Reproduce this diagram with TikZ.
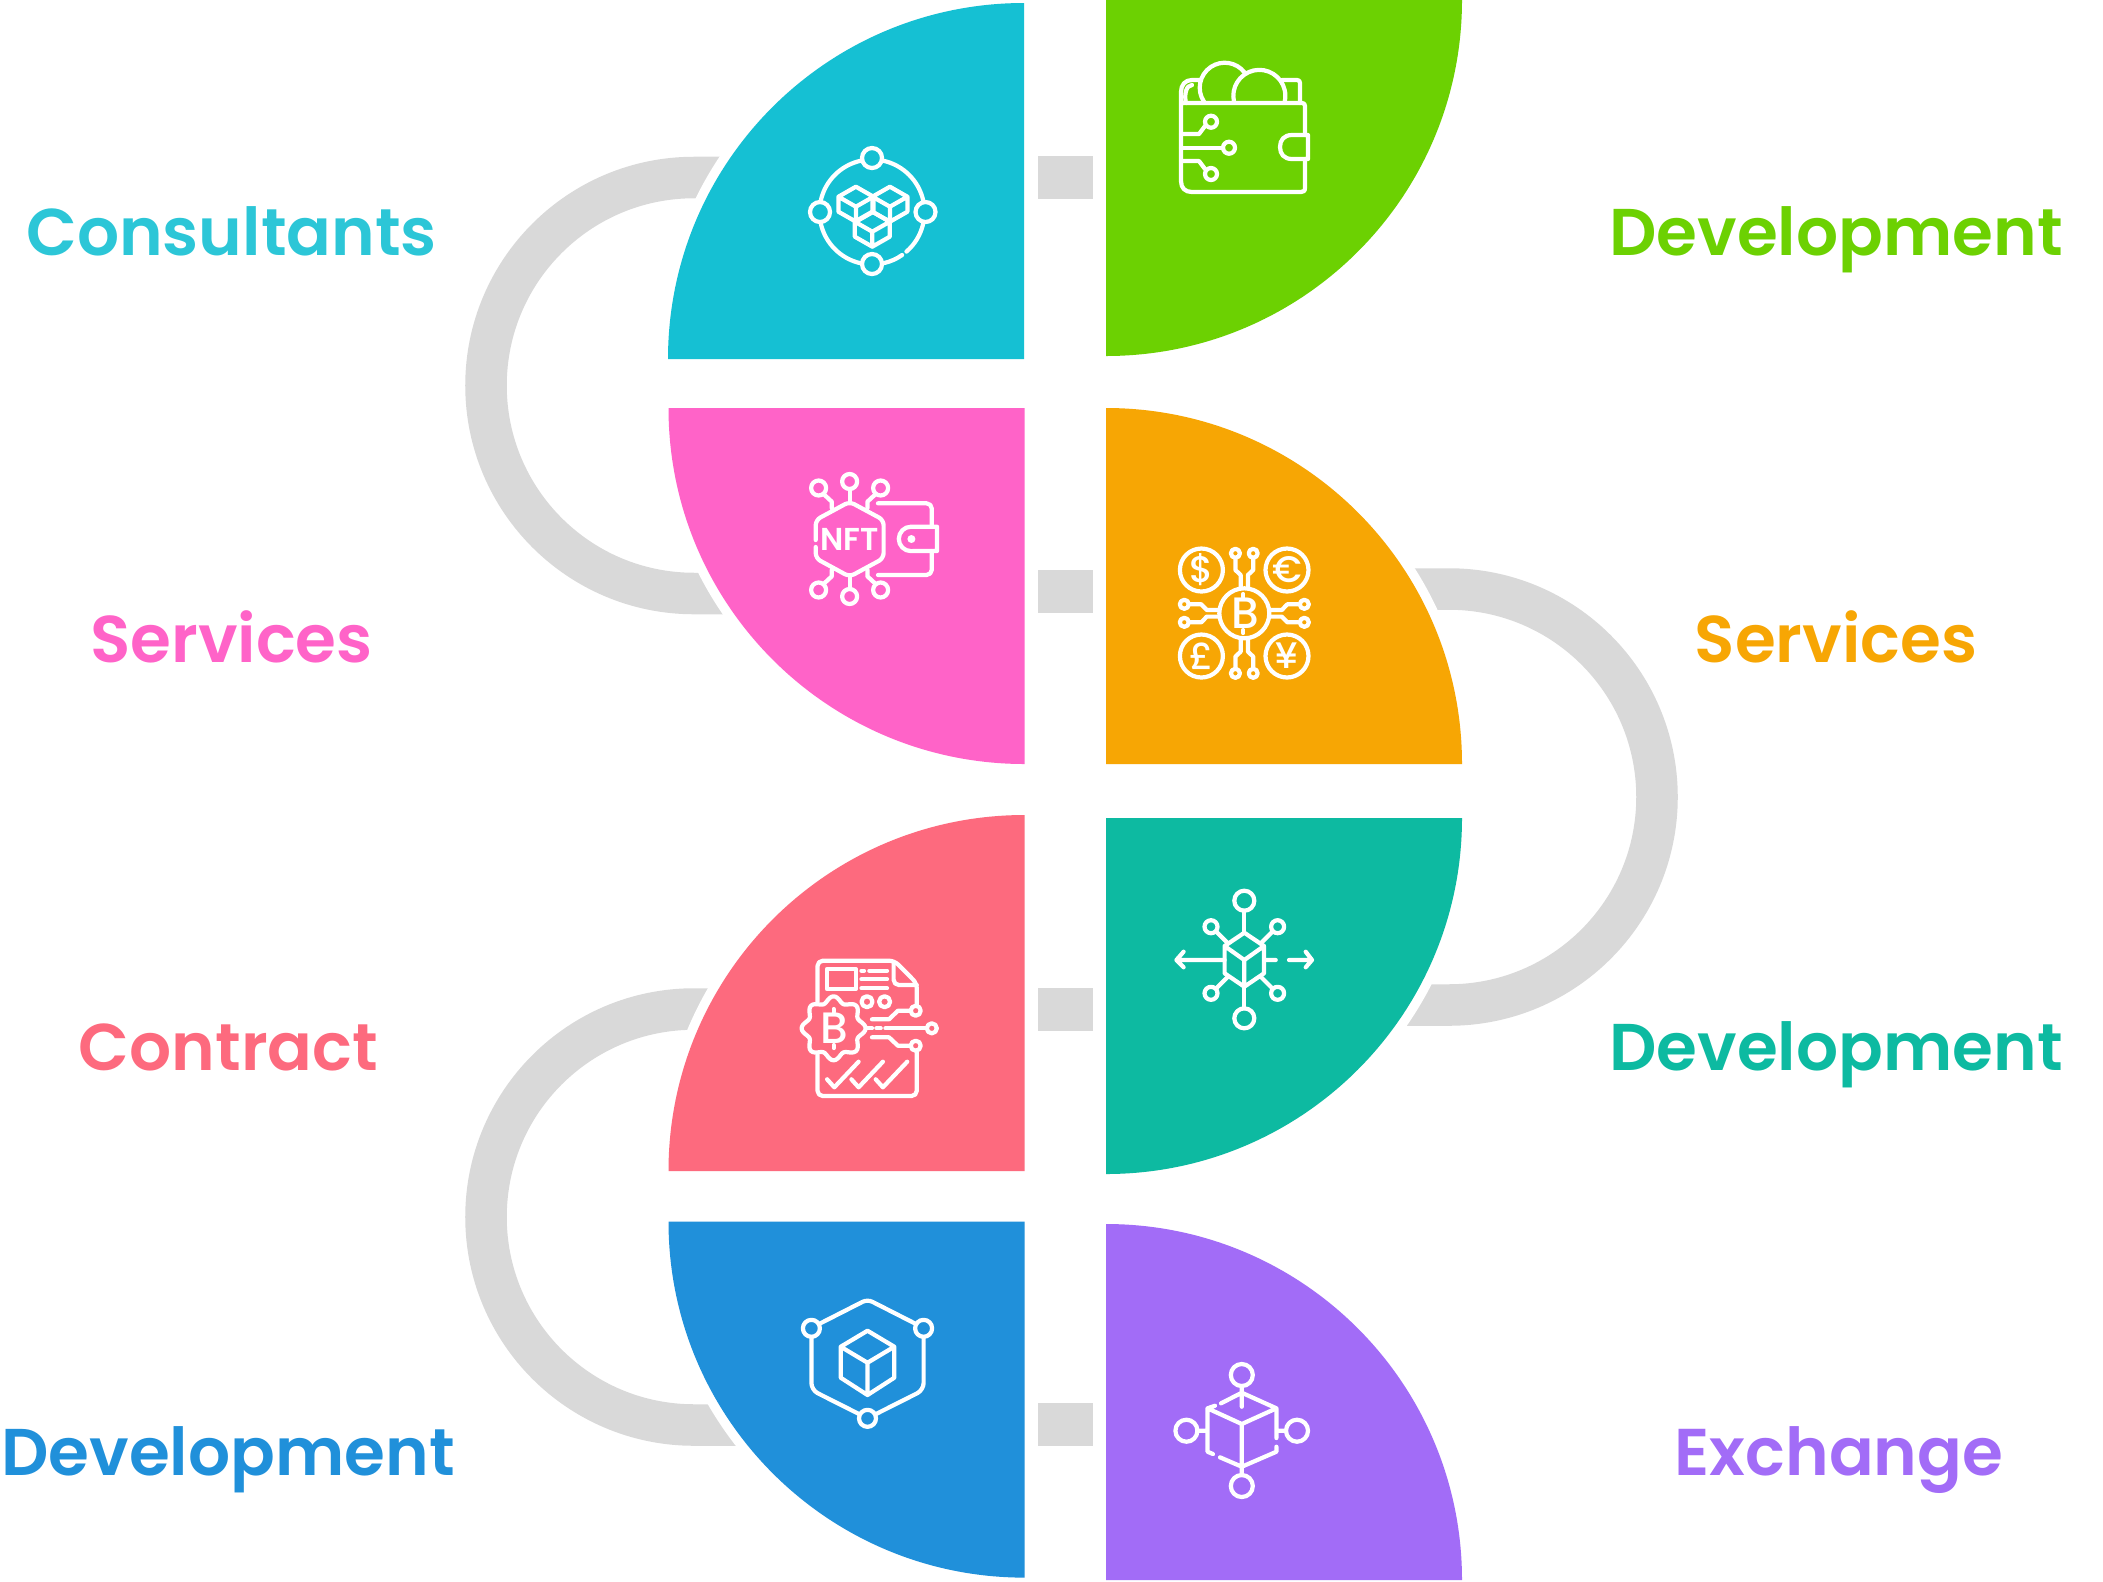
\documentclass[tikz,border=0pt]{standalone}
\usepackage{fontspec}
\newfontfamily\titlefont{Poppins SemiBold}
\newfontfamily\iconfont{Poppins Medium}
\definecolor{cyanq}{HTML}{15C0D3}
\definecolor{greenq}{HTML}{6CD102}
\definecolor{pinkq}{HTML}{FF63C8}
\definecolor{orangeq}{HTML}{F7A604}
\definecolor{redq}{HTML}{FD6A7E}
\definecolor{tealq}{HTML}{0DBAA1}
\definecolor{blueq}{HTML}{2090DA}
\definecolor{purpleq}{HTML}{A26CF7}
\definecolor{greyq}{HTML}{D9D9D9}
\tikzset{
  quarter/.style={fill=#1,preaction={draw=white,line width=0.19cm}},
  ringline/.style={draw=greyq,line width=0.415cm},
  linkbox/.style={fill=greyq},
  icon/.style={draw=white,line width=1.2pt,line cap=round,line join=round},
  sidelabel/.style={anchor=base,font=\titlefont\fontsize{18.8}{22}\selectfont,text=#1,inner sep=0pt},
  glyph/.style={text=white,inner sep=0pt,font=\iconfont\fontsize{#1}{#1}\selectfont}
}
\begin{document}
\begin{tikzpicture}[x=0.01cm,y=-0.01cm]
 \useasboundingbox (0,0) rectangle (2103,1581);

 % draw the grey rings behind the quarters
 \draw[ringline] (760,177.5) -- (694,177.5) arc[start angle=270,delta angle=-180,radius=208] -- (760,593.5);
 \draw[ringline] (1380,589) -- (1449,589) arc[start angle=270,delta angle=180,radius=208] -- (1380,1005);
 \draw[ringline] (760,1009) -- (694,1009) arc[start angle=270,delta angle=-180,radius=208] -- (760,1425);

 % draw the quarters: centre, start angle, colour
 \foreach \x/\y/\a/\c in {
     1024/359/180/cyanq,
     1106/0/0/greenq,
     1024.5/408/90/pinkq,
     1106/764/270/orangeq,
     1024.5/1171/180/redq,
     1106/818/0/tealq,
     1024.5/1221.6/90/blueq,
     1106/1580/270/purpleq}
         \path[quarter=\c] (\x,\y) -- ++(\a:356) arc[start angle=\a,delta angle=90,radius=356] -- cycle;

 % draw the small grey links
 \foreach \y in {156,570,988,1403}
         \path[linkbox] (1038,\y) rectangle ++(55,42.5);

 % draw the labels
 \node[sidelabel=cyanq!90!white] (consultants) at (231.6,255.7) {Consultants};
 \node[sidelabel=pinkq] (servicesleft) at (231.6,662.7) {Services};
 \node[sidelabel=redq] (contract) at (228.5,1070.7) {Contract};
 \node[sidelabel=blueq] (devblue) at (228,1475.7) {Development};
 \node[sidelabel=greenq] (devgreen) at (1836,255.7) {Development};
 \node[sidelabel=orangeq] (servicesright) at (1836,662.7) {Services};
 \node[sidelabel=tealq] (devteal) at (1836,1070.7) {Development};
 \node[sidelabel=purpleq] (exchange) at (1839,1475.7) {Exchange};

 % cyan icon: ring of nodes around three cubes
 \foreach \s/\e in {13/49,55/77,103/167,193/257,283/347}
         \draw[icon] (872,212) ++(\s:52.5) arc[start angle=\s,end angle=\e,radius=52.5];
 \foreach \x/\y in {872/158,820/212,925.5/212,872/264}
         \draw[icon] (\x,\y) circle(10);
 \foreach \x/\y in {855.9/186.7,889.9/186.7,872.3/211.7}
         \draw[icon] (\x,\y) -- ++(17.5,10) -- ++(0,15) -- ++(-17.5,10) -- ++(-17.5,-10) -- ++(0,-15) -- cycle
                     (\x-17.5,\y+10) -- (\x,\y+20) -- (\x+17.5,\y+10) (\x,\y+20) -- (\x,\y+35);

 % green icon: wallet with coins
 \draw[icon] (1181,103) -- (1302,103) .. controls (1304,103) and (1305,104) .. (1305,106) -- (1305,135)
             (1305,159) -- (1305,187) .. controls (1305,191) and (1304,192) .. (1301,192) -- (1192,192)
             .. controls (1185,192) and (1181,188) .. (1181,181) -- (1181,92)
             .. controls (1181,85) and (1185,80) .. (1192,80) -- (1200,80);
 \draw[icon] (1186,103) .. controls (1184,95) and (1186,85) .. (1192,85);
 \draw[icon] (1282,80) -- (1297,80) .. controls (1299,80) and (1300,81) .. (1300,83) -- (1300,103);
 \draw[icon] (1204,101.7) arc[start angle=146,end angle=322,radius=25];
 \draw[icon] (1234,101.7) arc[start angle=167,end angle=373,radius=26];
 \draw[icon] (1308,135) -- (1292,135) .. controls (1284,135) and (1280,140) .. (1280,147)
             .. controls (1280,154) and (1284,159) .. (1292,159) -- (1308,159) -- cycle;
 \draw[icon] (1181,134) -- (1199,134) -- (1205,126);
 \draw[icon] (1181,147.7) -- (1223,147.7);
 \draw[icon] (1181,161) -- (1199,161) -- (1205,169);
 \foreach \x/\y in {1211/121.7,1229/147.7,1211/174}
         \draw[icon] (\x,\y) circle(6);

 % pink icon: NFT hexagon and wallet
 \draw[icon,rounded corners=1.5pt] (815.7,540) -- (815.7,520) -- (849.6,501.7) -- (883.6,520)
             -- (883.6,558.3) -- (849.6,576.7) -- (815.7,558.3) -- (815.7,547);
 \node[text=white,inner sep=0pt,font=\titlefont\fontsize{9}{9}\selectfont] (nftword) at (849.6,539) {NFT};
 \foreach \s in {1,-1} {
         \draw[icon] (849.6,{539-\s*37.3}) -- (849.6,{539-\s*50});
         \draw[icon] (849.6,{539-\s*57.5}) circle(7.5);
         \foreach \t in {1,-1} {
                 \draw[icon] ({849.6-\t*17.8},{539-\s*30.7}) -- ({849.6-\t*17.8},{539-\s*37.3}) -- ({849.6-\t*25},{539-\s*44});
                 \draw[icon] ({849.6-\t*31},{539-\s*51}) circle(7.5);
         }
 }
 \draw[icon,rounded corners=1.5pt] (878,503.3) -- (931.8,503.3) -- (931.8,526.7);
 \draw[icon,rounded corners=1.5pt] (931.8,551) -- (931.8,575) -- (878,575);
 \draw[icon] (937,526.7) -- (911,526.7) arc[start angle=270,delta angle=-180,radius=12.2] -- (937,551) -- cycle;
 \fill[white] (911.4,539) circle(4);

 % orange icon: coin with four currencies
 \draw[icon] (1244.3,613.3) circle(25);
 \foreach \x/\y in {1201.4/570,1287/570,1201.4/656,1287/656}
         \draw[icon] (\x,\y) circle(21.5);
 \node[glyph=10.5] (dollar) at (1201.4,570) {\$};
 \node[glyph=10.5] (euro) at (1287,570) {€};
 \node[glyph=10.5] (pound) at (1201.4,656) {£};
 \node[glyph=10.5] (yen) at (1287,656) {¥};
 \node[glyph=12.5] (coinb) at (1245.3,613.3) {B};
 \draw[icon] (1243.3,594) -- (1243.3,597) (1243.3,630) -- (1243.3,633);
 \foreach \s in {1,-1}
     \foreach \t in {1,-1} {
         \draw[icon] ({1244.3+\s*8.9},{613.3+\t*55}) -- ({1244.3+\s*8.9},{613.3+\t*43.3})
                     -- ({1244.3+\s*3.6},{613.3+\t*38.3}) -- ({1244.3+\s*3.6},{613.3+\t*26.6});
         \draw[icon] ({1244.3+\s*8.9},{613.3+\t*60}) circle(4.5);
         \draw[icon] ({1244.3+\s*54},{613.3+\t*9}) -- ({1244.3+\s*43},{613.3+\t*9})
                     -- ({1244.3+\s*37.5},{613.3+\t*3.3}) -- ({1244.3+\s*26.8},{613.3+\t*3.3});
         \draw[icon] ({1244.3+\s*60},{613.3+\t*9}) circle(4.5);
     }

 % red icon: paper, gear and checks
 \draw[icon,rounded corners=1.5pt] (817.5,1001.7) -- (817.5,960.7) -- (894.3,960.7) -- (916.8,983.3) -- (916.8,1005);
 \draw[icon,rounded corners=1.5pt] (893.6,963) -- (893.6,985) -- (916.8,985);
 \draw[icon,rounded corners=1.5pt] (817.5,1055) -- (817.5,1096) -- (916.8,1096) -- (916.8,1051.7);
 \draw[icon] (827,969) rectangle (855.7,989);
 \draw[icon] (861.4,970.7) -- (864,970.7) (869.3,970.7) -- (887,970.7)
             (861.4,979.3) -- (887,979.3) (861.4,988.3) -- (887,988.3);
 \foreach \x in {867,884.6}
         \draw[icon] (\x,1001.7) circle(5.5);
 \draw[icon] plot[domain=0:360,samples=97,smooth] ({833.6+(29+3*cos(8*\x))*cos(\x)},{1028.3+(29+3*cos(8*\x))*sin(\x)});
 \node[glyph=12.5] (gearb) at (834.6,1028.3) {B};
 \draw[icon] (833.6,1009) -- (833.6,1012) (833.6,1045) -- (833.6,1048);
 \draw[icon] (872,1019.3) -- (889,1019.3) -- (897.9,1010.7) -- (910.4,1010.7);
 \draw[icon] (872,1037.3) -- (889,1037.3) -- (897.9,1045.7) -- (910.4,1045.7);
 \draw[icon] (867.5,1028.3) -- (872,1028.3) (876.4,1028.3) -- (880.7,1028.3) (885.4,1028.3) -- (926.4,1028.3);
 \foreach \x/\y in {915.7/1010.7,931.8/1028.3,915.7/1045.7}
         \draw[icon] (\x,\y) circle(5);
 \foreach \x in {0,24.3,48.6}
         \draw[icon] (827.1+\x,1079.3) -- (834.3+\x,1087.3) -- (858.6+\x,1061.7);

 % teal icon: cube with arrows
 \draw[icon] (1244.3,932.7) -- (1264,946) -- (1264,973.3) -- (1244.3,986.7) -- (1224.6,973.3) -- (1224.6,946) -- cycle
             (1224.6,946) -- (1244.3,960) -- (1264,946) (1244.3,960) -- (1244.3,986.7);
 \draw[icon] (1244.3,932.7) -- (1244.3,910.7) (1244.3,986.7) -- (1244.3,1008.3);
 \draw[icon] (1244.3,900.7) circle(10) (1244.3,1018.3) circle(10);
 \foreach \s in {1,-1}
     \foreach \t in {1,-1} {
         \draw[icon] ({1244.3+\s*33.3},{960+\t*33.3}) circle(6.5);
         \draw[icon] ({1244.3+\s*28},{960+\t*28.3}) -- ({1244.3+\s*17},{960+\t*17.3});
     }
 \draw[icon] (1224.6,960) -- (1176.4,960) (1183.6,951.7) -- (1176.4,960) -- (1183.6,967.3);
 \draw[icon] (1265.7,960) -- (1275.7,960) (1289,960) -- (1312,960) (1305.7,951.7) -- (1312,960) -- (1305.7,967.3);

 % blue icon: hexagon around a cube
 \draw[icon,rounded corners=1.5pt] (819,1324) -- (867.5,1299.3) -- (916,1324);
 \draw[icon,rounded corners=2pt] (923.6,1337) -- (923.6,1390) -- (876,1414);
 \draw[icon,rounded corners=2pt] (811.4,1337) -- (811.4,1390) -- (859,1414);
 \foreach \x/\y in {811.4/1328.3,923.6/1328.3,867.5/1418.3}
         \draw[icon] (\x,\y) circle(8.5);
 \draw[icon] (867.5,1330.7) -- (894.3,1346.7) -- (894.3,1377.7) -- (867.5,1395) -- (840.7,1377.7) -- (840.7,1346.7) -- cycle
             (840.7,1346.7) -- (867.5,1362.7) -- (894.3,1346.7) (867.5,1362.7) -- (867.5,1395);

 % purple icon: cube with four nodes
 \draw[icon] (1221,1403.3) -- (1241.8,1392.7) -- (1276.4,1408.3) -- (1276.4,1438)
             (1276.4,1446.7) -- (1276.4,1451.7) -- (1241.8,1466.7) -- (1220,1457.3)
             (1213,1454) -- (1207.5,1451.7) -- (1207.5,1408.3) -- (1215,1405.7)
             (1207.5,1408.3) -- (1241.8,1424) -- (1276.4,1408.3)
             (1241.8,1424) -- (1241.8,1475) (1241.8,1386) -- (1241.8,1406.7)
             (1198.6,1430.7) -- (1207.5,1430.7) (1276.4,1430.7) -- (1285.5,1430.7);
 \foreach \x/\y in {1241.8/1375,1241.8/1486,1186.4/1430.7,1297/1430.7}
         \draw[icon] (\x,\y) circle(11);
\end{tikzpicture}
\end{document}
